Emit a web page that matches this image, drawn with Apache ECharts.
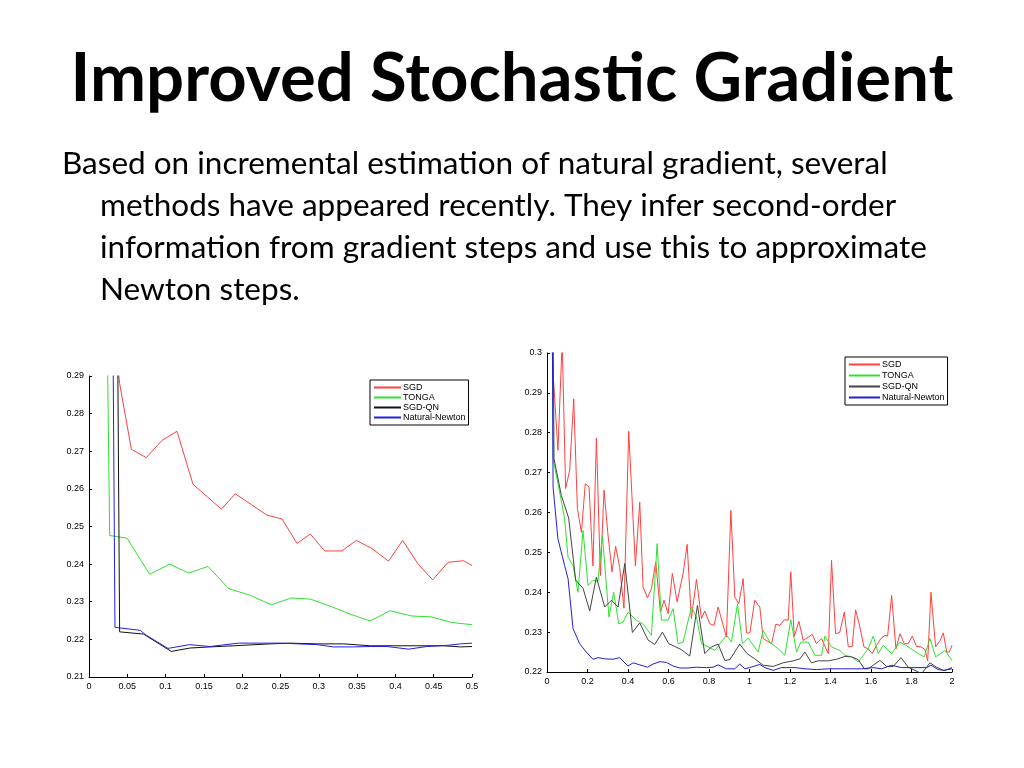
<!DOCTYPE html>
<html>
<head>
<meta charset="utf-8">
<script src="https://cdn.jsdelivr.net/npm/echarts@6/dist/echarts.min.js"></script>
<style>
html,body{margin:0;padding:0;background:#fff;}
#chart{width:1024px;height:768px;}
</style>
</head>
<body>
<div id="chart"></div>
<script>
// ---- Text ----
var titleText = 'Improved Stochastic Gradient';
var bodyLines = [
  'Based on incremental estimation of natural gradient, several',
  'methods have appeared recently. They infer second-order',
  'information from gradient steps and use this to approximate',
  'Newton steps.'
];
var seriesNames = ['SGD', 'TONGA', 'SGD-QN', 'Natural-Newton'];

// ---- Left chart ticks ----
var leftXTicks = {min: 0, max: 0.5, interval: 0.05};
var leftYTicks = {min: 0.21, max: 0.29, interval: 0.01};
// ---- Right chart ticks ----
var rightXTicks = {min: 0, max: 2, interval: 0.2};
var rightYTicks = {min: 0.22, max: 0.3, interval: 0.01};

// ---- Left chart data [x, y] ----
var leftSGD = [[0.034,0.30],[0.040,0.288],[0.0553,0.2705],[0.0748,0.2683],[0.0953,0.2729],[0.1149,0.2753],[0.1358,0.2612],[0.155,0.2578],[0.1728,0.2546],[0.191,0.2587],[0.212,0.2558],[0.2324,0.2530],[0.252,0.2520],[0.2715,0.2455],[0.289,0.2480],[0.3077,0.2435],[0.330,0.2435],[0.349,0.2463],[0.369,0.2442],[0.391,0.2408],[0.4095,0.2463],[0.429,0.2402],[0.4487,0.2358],[0.4687,0.2405],[0.489,0.2409],[0.5,0.2396]];
var leftTONGA = [[0.022,0.33],[0.027,0.2476],[0.0496,0.2469],[0.0792,0.2373],[0.1053,0.2400],[0.130,0.2376],[0.1553,0.2394],[0.1823,0.2335],[0.2106,0.2317],[0.238,0.2292],[0.2641,0.2310],[0.289,0.2307],[0.3164,0.2287],[0.341,0.2267],[0.367,0.2249],[0.393,0.2276],[0.4217,0.2262],[0.447,0.2260],[0.473,0.2245],[0.5,0.2239]];
var leftSGDQN = [[0.036,0.34],[0.040,0.2220],[0.0713,0.2214],[0.1074,0.2168],[0.132,0.2177],[0.158,0.2180],[0.189,0.2183],[0.2367,0.2188],[0.263,0.2190],[0.2977,0.2188],[0.3325,0.2188],[0.367,0.2183],[0.398,0.2183],[0.428,0.2183],[0.463,0.2183],[0.485,0.2180],[0.5,0.2181]];
var leftNN = [[0.030,0.34],[0.0339,0.2232],[0.067,0.2224],[0.0740,0.2212],[0.1030,0.2176],[0.1315,0.2186],[0.158,0.2181],[0.195,0.2190],[0.25,0.2190],[0.2977,0.2186],[0.319,0.2180],[0.3455,0.2180],[0.367,0.2181],[0.389,0.2181],[0.4173,0.2174],[0.441,0.2181],[0.467,0.2184],[0.485,0.2188],[0.5,0.2190]];

// ---- Right chart data [x, y] ----
var rightSGD = [[0.012,0.32],[0.030,0.295],[0.054,0.2756],[0.075,0.303],[0.092,0.266],[0.112,0.2706],[0.132,0.2885],[0.150,0.261],[0.170,0.255],[0.189,0.2672],[0.2076,0.2664],[0.227,0.2466],[0.244,0.2787],[0.2636,0.2442],[0.2817,0.2656],[0.300,0.2550],[0.321,0.2451],[0.339,0.2515],[0.359,0.2462],[0.380,0.2360],[0.4036,0.2804],[0.4366,0.2466],[0.458,0.2626],[0.4745,0.2413],[0.496,0.2386],[0.5157,0.2409],[0.537,0.2476],[0.560,0.2350],[0.578,0.2380],[0.598,0.2346],[0.619,0.2447],[0.6425,0.2376],[0.672,0.2447],[0.692,0.2520],[0.713,0.2334],[0.738,0.2432],[0.763,0.2334],[0.779,0.2353],[0.804,0.2321],[0.825,0.2317],[0.845,0.2363],[0.870,0.2317],[0.886,0.2288],[0.908,0.2605],[0.9275,0.2388],[0.947,0.2371],[0.9687,0.2434],[0.985,0.2298],[1.0017,0.2298],[1.026,0.2380],[1.051,0.2363],[1.0675,0.2284],[1.109,0.2271],[1.130,0.2320],[1.150,0.2317],[1.171,0.2331],[1.191,0.2330],[1.204,0.2451],[1.221,0.2289],[1.244,0.2327],[1.265,0.2279],[1.310,0.2294],[1.331,0.2271],[1.356,0.2284],[1.389,0.2246],[1.405,0.2480],[1.425,0.2296],[1.446,0.2300],[1.468,0.2350],[1.488,0.2263],[1.507,0.2264],[1.524,0.2356],[1.545,0.2313],[1.565,0.2263],[1.586,0.2258],[1.606,0.2246],[1.628,0.2267],[1.649,0.2284],[1.669,0.2292],[1.682,0.2290],[1.702,0.2392],[1.723,0.2258],[1.743,0.2296],[1.764,0.2271],[1.784,0.2271],[1.804,0.2290],[1.825,0.2264],[1.847,0.2263],[1.867,0.2256],[1.880,0.2228],[1.896,0.2400],[1.919,0.2263],[1.941,0.2279],[1.957,0.2298],[1.974,0.2250],[1.987,0.2250],[2.0,0.2267]];
var rightTONGA = [[0.026,0.31],[0.030,0.2735],[0.0626,0.2651],[0.087,0.2584],[0.104,0.2488],[0.1285,0.2467],[0.153,0.2400],[0.178,0.2555],[0.2026,0.2417],[0.227,0.2430],[0.252,0.2427],[0.2735,0.2543],[0.306,0.2338],[0.3295,0.2400],[0.354,0.2321],[0.3756,0.2325],[0.400,0.2350],[0.4415,0.2330],[0.4745,0.2320],[0.5157,0.2292],[0.5437,0.2522],[0.565,0.2330],[0.598,0.2330],[0.6227,0.2359],[0.6474,0.2271],[0.672,0.2275],[0.713,0.2363],[0.738,0.2338],[0.763,0.2271],[0.7957,0.2263],[0.8287,0.2254],[0.848,0.2267],[0.886,0.2292],[0.911,0.2275],[0.9407,0.2371],[0.9654,0.2271],[0.9934,0.2285],[1.0428,0.2250],[1.0675,0.2304],[1.1005,0.2275],[1.1417,0.2258],[1.1746,0.2242],[1.204,0.2331],[1.2323,0.2250],[1.2537,0.2275],[1.290,0.2275],[1.3229,0.2242],[1.356,0.2242],[1.3723,0.2290],[1.405,0.2263],[1.446,0.2254],[1.471,0.2242],[1.504,0.2238],[1.537,0.2225],[1.562,0.2242],[1.586,0.2258],[1.611,0.2290],[1.636,0.2246],[1.660,0.2267],[1.702,0.2246],[1.743,0.2275],[1.784,0.2263],[1.8336,0.2246],[1.863,0.2238],[1.891,0.2284],[1.919,0.2238],[1.965,0.2254],[2.0,0.2229]];
var rightSGDQN = [[0.030,0.31],[0.0346,0.2735],[0.0708,0.2643],[0.107,0.2586],[0.1417,0.2430],[0.178,0.2410],[0.211,0.2353],[0.2438,0.2438],[0.285,0.2363],[0.318,0.2380],[0.351,0.2363],[0.384,0.2472],[0.4217,0.2299],[0.458,0.2323],[0.4992,0.2280],[0.532,0.2269],[0.570,0.2300],[0.601,0.2271],[0.631,0.2264],[0.664,0.2256],[0.705,0.2240],[0.743,0.2367],[0.779,0.2246],[0.812,0.2263],[0.845,0.2270],[0.878,0.2229],[0.903,0.2231],[0.952,0.2270],[0.988,0.2246],[1.026,0.2233],[1.0675,0.2217],[1.117,0.2214],[1.166,0.2223],[1.216,0.2228],[1.249,0.2233],[1.2735,0.2250],[1.306,0.2223],[1.339,0.2228],[1.389,0.2228],[1.430,0.2232],[1.471,0.2239],[1.504,0.2238],[1.537,0.2231],[1.567,0.2208],[1.586,0.2208],[1.611,0.2217],[1.644,0.2229],[1.677,0.2214],[1.710,0.2214],[1.748,0.2236],[1.784,0.2212],[1.817,0.2204],[1.850,0.2196],[1.891,0.2223],[1.924,0.2212],[1.957,0.2204],[2.0,0.2208]];
var rightNN = [[0.026,0.31],[0.030,0.2664],[0.054,0.2534],[0.087,0.2467],[0.104,0.2434],[0.1285,0.2309],[0.161,0.2271],[0.194,0.2250],[0.227,0.2232],[0.252,0.2236],[0.285,0.2233],[0.326,0.2232],[0.359,0.2236],[0.400,0.2215],[0.425,0.2223],[0.458,0.2218],[0.496,0.2212],[0.524,0.2220],[0.557,0.2226],[0.590,0.2224],[0.623,0.2215],[0.656,0.2210],[0.697,0.2210],[0.738,0.2212],[0.7875,0.2211],[0.820,0.2212],[0.845,0.2218],[0.886,0.2208],[0.927,0.2208],[0.952,0.2220],[0.977,0.2208],[1.000,0.2211],[1.051,0.2219],[1.076,0.2211],[1.117,0.2204],[1.158,0.2211],[1.224,0.2211],[1.274,0.2208],[1.331,0.2206],[1.389,0.2208],[1.455,0.2208],[1.504,0.2208],[1.553,0.2208],[1.611,0.2211],[1.652,0.2208],[1.702,0.2217],[1.751,0.2211],[1.817,0.2211],[1.875,0.2211],[1.896,0.2217],[1.932,0.2206],[1.965,0.2204],[2.0,0.2211]];

var colorsLeft = ['#ff4040', '#30e030', '#111111', '#2020e0'];
var colorsRight = ['#ff4040', '#30e030', '#444444', '#2020d0'];
var RIGHT_SUFFIX = ' (right)';

var chart = echarts.init(document.getElementById('chart'));

function axisCommon(t) {
  return {
    type: 'value', min: t.min, max: t.max, interval: t.interval,
    axisLine: {show: true, onZero: false, lineStyle: {color: '#000', width: 1}},
    axisTick: {show: true, inside: true, length: 3, lineStyle: {color: '#000'}},
    axisLabel: {color: '#000', fontSize: 9, fontFamily: 'Liberation Sans, Arial', margin: 5},
    splitLine: {show: false}
  };
}

function mkSeries(name, data, xi, yi, color) {
  return {
    name: name, type: 'line', data: data, xAxisIndex: xi, yAxisIndex: yi,
    symbol: 'none', clip: true, animation: false,
    lineStyle: {color: color, width: 1}, itemStyle: {color: color}
  };
}

function mkLegend(left, top, lineW, fontSize, gap, suffix, colors) {
  return {
    orient: 'vertical', left: left, top: top,
    data: seriesNames.map(function (n, i) {
      return {name: n + suffix, icon: 'rect',
        itemStyle: {color: colors[i], borderColor: colors[i], borderWidth: 0, opacity: 1}};
    }),
    formatter: function (name) { return suffix ? name.replace(suffix, '') : name; },
    backgroundColor: '#fff', borderColor: '#000', borderWidth: 1, borderRadius: 0,
    padding: [3, 3, 3, 4], itemGap: gap, itemWidth: lineW, itemHeight: 2,
    selectedMode: false,
    textStyle: {fontSize: fontSize, color: '#000', fontFamily: 'Liberation Sans, Arial', padding: [0, 0, 0, -3]}
  };
}

var bodyGraphics = bodyLines.map(function (s, i) {
  return {
    type: 'text', left: i === 0 ? 62 : 100, top: 148 + i * 42,
    style: {text: s, font: '31.5px Lato', fill: '#000'}
  };
});

chart.setOption({
  animation: false,
  backgroundColor: '#fff',
  tooltip: {show: false},
  title: {
    text: titleText, left: 'center', top: 41,
    textStyle: {fontSize: 67, fontWeight: 'bold', fontFamily: 'Lato', color: '#000'}
  },
  graphic: bodyGraphics,
  legend: [
    mkLegend(370, 380, 27, 9, 1, '', colorsLeft),
    mkLegend(845, 357, 31, 9, 2, RIGHT_SUFFIX, colorsRight)
  ],
  grid: [
    {left: 89, top: 376, width: 383, height: 301, containLabel: false},
    {left: 547, top: 353, width: 405, height: 319, containLabel: false}
  ],
  xAxis: [
    Object.assign(axisCommon(leftXTicks), {gridIndex: 0}),
    Object.assign(axisCommon(rightXTicks), {gridIndex: 1})
  ],
  yAxis: [
    Object.assign(axisCommon(leftYTicks), {gridIndex: 0}),
    Object.assign(axisCommon(rightYTicks), {gridIndex: 1})
  ],
  series: [
    mkSeries(seriesNames[0], leftSGD, 0, 0, colorsLeft[0]),
    mkSeries(seriesNames[1], leftTONGA, 0, 0, colorsLeft[1]),
    mkSeries(seriesNames[2], leftSGDQN, 0, 0, colorsLeft[2]),
    mkSeries(seriesNames[3], leftNN, 0, 0, colorsLeft[3]),
    mkSeries(seriesNames[0] + RIGHT_SUFFIX, rightSGD, 1, 1, colorsRight[0]),
    mkSeries(seriesNames[1] + RIGHT_SUFFIX, rightTONGA, 1, 1, colorsRight[1]),
    mkSeries(seriesNames[2] + RIGHT_SUFFIX, rightSGDQN, 1, 1, colorsRight[2]),
    mkSeries(seriesNames[3] + RIGHT_SUFFIX, rightNN, 1, 1, colorsRight[3])
  ]
});
</script>
</body>
</html>
